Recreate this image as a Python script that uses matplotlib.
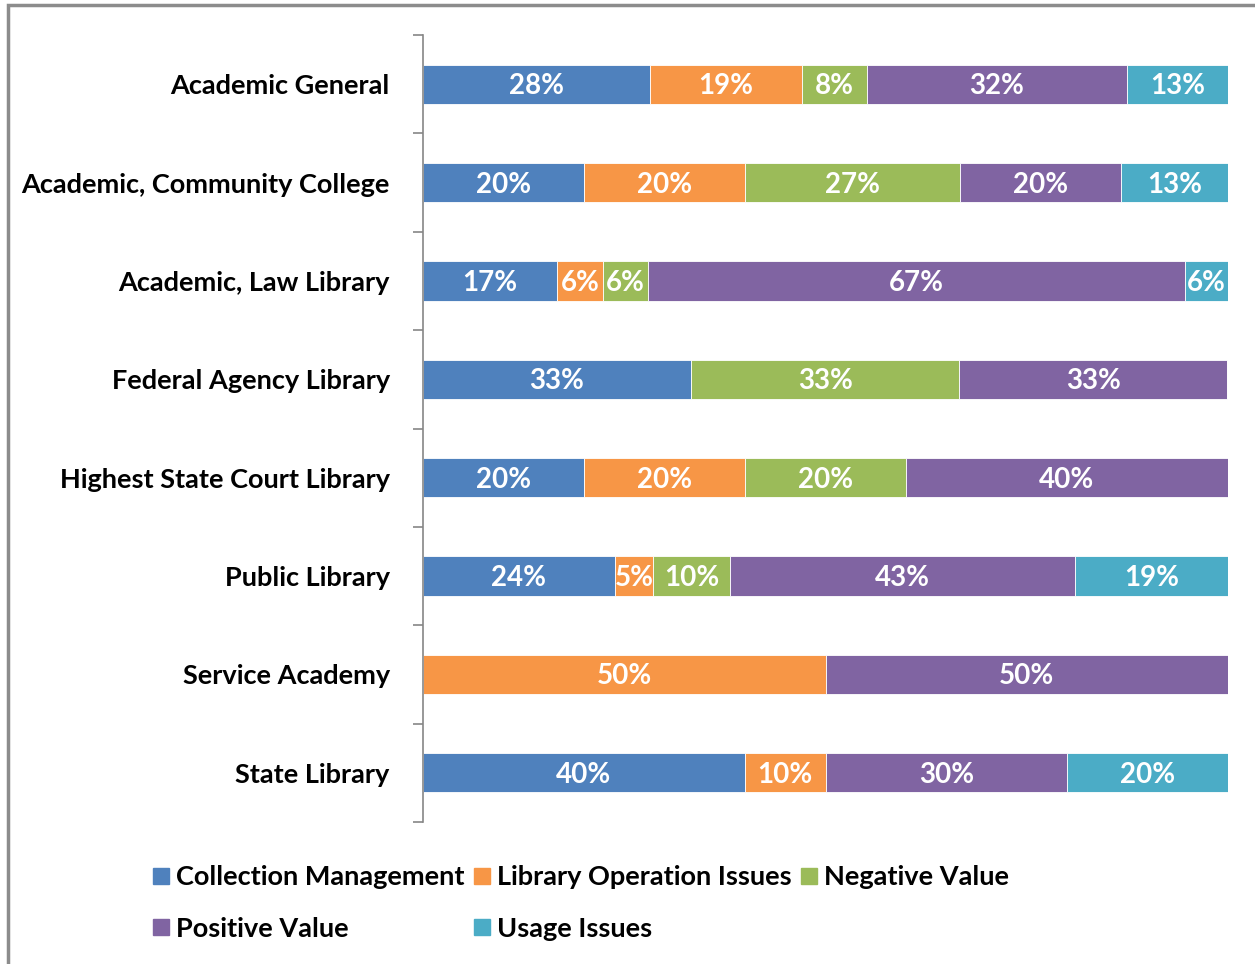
import matplotlib.pyplot as plt
from matplotlib.patches import Rectangle
from matplotlib.lines import Line2D
import numpy as np

# share of comments per theme (percent)
categories = ['Academic General', 'Academic, Community College',
              'Academic, Law Library', 'Federal Agency Library',
              'Highest State Court Library', 'Public Library',
              'Service Academy', 'State Library']
collection_mgmt = [28.2, 20.0, 16.7, 33.3, 20.0, 23.8, 0.0, 40.0]
library_ops = [18.9, 20.0, 5.6, 0.0, 20.0, 4.8, 50.0, 10.0]
negative_value = [8.1, 26.7, 5.6, 33.3, 20.0, 9.5, 0.0, 0.0]
positive_value = [32.2, 20.0, 66.7, 33.3, 40.0, 42.9, 50.0, 30.0]
usage_issues = [12.7, 13.3, 5.5, 0.0, 0.0, 19.0, 0.0, 20.0]

series_names = ['Collection Management', 'Library Operation Issues',
                'Negative Value', 'Positive Value', 'Usage Issues']
series_vals = [collection_mgmt, library_ops, negative_value,
               positive_value, usage_issues]
colors = ['#4F81BD', '#F79646', '#9BBB59', '#8064A2', '#4BACC6']

plt.rcParams['font.family'] = ['Lato', 'DejaVu Sans']
plt.rcParams['font.weight'] = 'bold'

W, H = 1255, 964
fig = plt.figure(figsize=(W / 100, H / 100), dpi=100)
ax = fig.add_axes([423 / W, 142 / H, 805 / W, 787 / H])

ypos = np.arange(len(categories))
left = np.zeros(len(categories))
for name, vals, col in zip(series_names, series_vals, colors):
    vals = np.array(vals)
    bars = ax.barh(ypos, vals, left=left, height=0.4, color=col,
                   label=name, edgecolor='white', linewidth=0.6)
    for b, v in zip(bars, vals):
        if v > 0:
            ax.text(b.get_x() + b.get_width() / 2, b.get_y() + b.get_height() / 2 + 0.02,
                    '%d%%' % round(v), ha='center', va='center',
                    color='white', fontsize=20, fontweight='bold')
    left += vals

ax.set_xlim(0, 100)
ax.set_ylim(len(categories) - 0.5, -0.5)
ax.set_yticks(ypos)
ax.set_yticklabels(categories, fontsize=19.5, fontweight='bold')
ax.tick_params(axis='y', which='major', length=0, pad=24)
ax.set_yticks(np.arange(-0.5, len(categories)), minor=True)
ax.tick_params(axis='y', which='minor', length=7, color='#868686', width=1.2)
ax.set_xticks([])
for s in ['top', 'right', 'bottom']:
    ax.spines[s].set_visible(False)
ax.spines['left'].set_color('#868686')
ax.spines['left'].set_linewidth(1.2)

# legend, ordered so rows read like the original
order = [0, 3, 1, 4, 2]
handles = [Line2D([], [], marker='s', linestyle='', markersize=11,
                  markerfacecolor=colors[i], markeredgecolor=colors[i])
           for i in order]
fig.legend(handles, [series_names[i] for i in order], ncol=3,
           loc='center left', bbox_to_anchor=(139 / W, 1 - 903 / H),
           frameon=False, fontsize=19.5, handletextpad=0.25,
           handlelength=0.6, columnspacing=0.35, labelspacing=1.0,
           borderpad=0)

# outer frame of the original chart (only top and left visible)
fig.add_artist(Rectangle((8 / W, -0.1), 1.2, 1.1 - 5 / H,
                         transform=fig.transFigure, fill=False,
                         edgecolor='#8c8c8c', linewidth=2.5))

fig.savefig('out.png', dpi=100)
